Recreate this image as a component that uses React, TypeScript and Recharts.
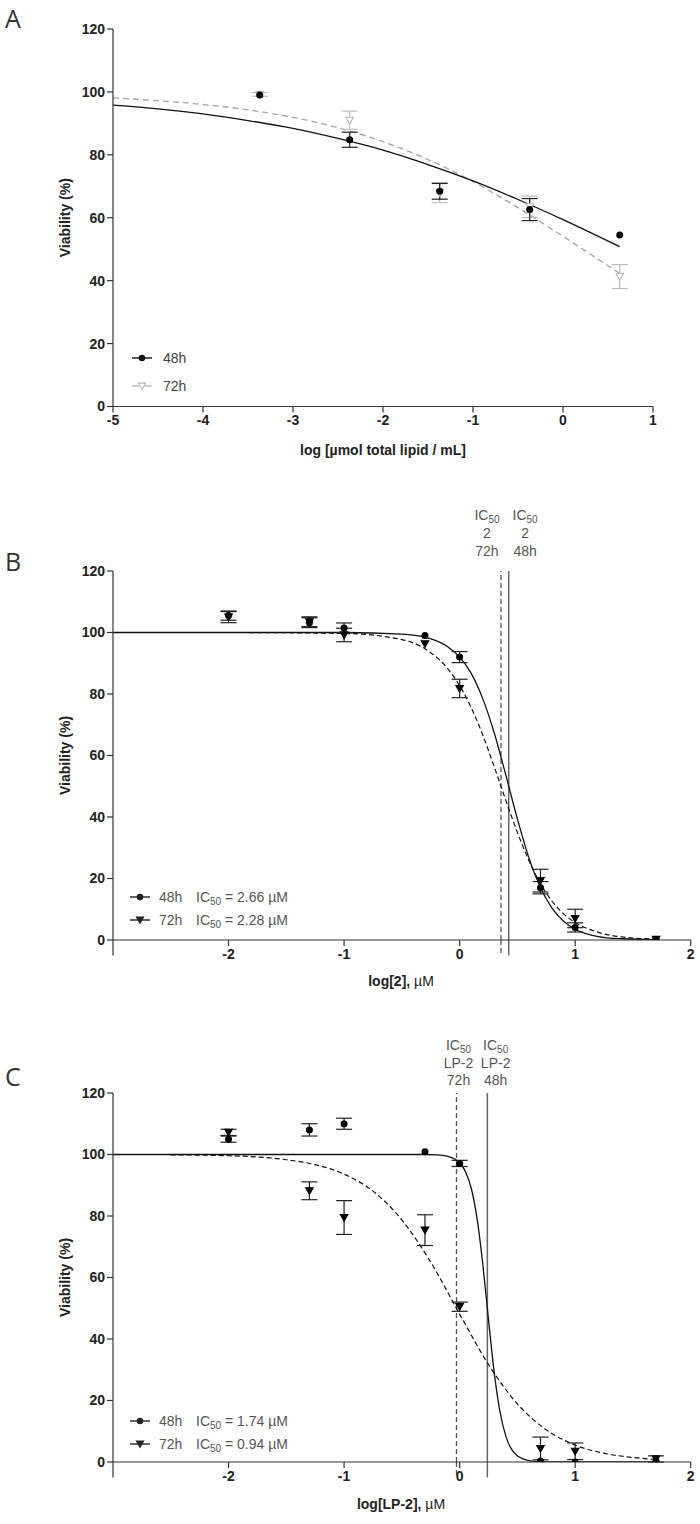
import React from 'react';
import { ComposedChart, Line, Scatter, XAxis, YAxis, ErrorBar, ReferenceLine } from 'recharts';

const FONT = '"Liberation Sans", Arial, sans-serif';

// ---------- Panel A ----------
const aX = [-3.37, -2.37, -1.37, -0.37, 0.63];
const a48 = [99.0, 84.8, 68.4, 62.6, 54.5];
const a48Err = [0, 2.4, 2.5, 3.5, 0];
const a72 = [99.2, 91.0, 68.0, 63.5, 41.3];
const a72Err = [0.6, 2.9, 3.2, 3.4, 3.8];
const aCurveX = [-5, -4.5, -4, -3.5, -3, -2.5, -2, -1.5, -1, -0.5, 0, 0.63];
const aFit48 = [95.8, 94.6, 93.0, 90.9, 88.4, 85.2, 81.5, 76.9, 71.7, 65.8, 59.4, 50.8];
const aFit72 = [98.1, 97.2, 96.0, 94.3, 91.9, 88.6, 84.2, 78.5, 71.5, 63.2, 54.1, 42.3];
const aXTicks = [-5, -4, -3, -2, -1, 0, 1];

// ---------- Panel B ----------
const bX = [-2, -1.3, -1, -0.3, 0, 0.7, 1, 1.7];
const b48 = [105.5, 103.2, 101.5, 99.0, 92.0, 17.0, 4.1, 0.1];
const b48Err = [1.5, 1.6, 1.6, 0, 1.8, 2.0, 1.5, 0];
const b72 = [105.0, 103.5, 99.2, 96.3, 81.8, 19.3, 7.0, 0.2];
const b72Err = [1.8, 1.6, 2.2, 0, 3.0, 3.7, 3.0, 0];
const bCurveX = [-3, -2, -1, -0.5, -0.3, -0.1, 0, 0.1, 0.2, 0.3, 0.4, 0.5, 0.6, 0.7, 0.8, 0.9, 1.0, 1.2, 1.4, 1.7];
const bFit48 = [100, 100, 100, 99.5, 98.5, 95.3, 92.0, 86.7, 78.5, 67.3, 53.6, 39.4, 26.7, 17.0, 10.4, 6.1, 3.5, 1.1, 0.4, 0.1];
const bFit72 = [100, 100, 99.7, 97.7, 94.7, 88.1, 82.7, 75.6, 66.7, 56.3, 45.4, 35.0, 25.8, 18.3, 12.6, 8.5, 5.7, 2.5, 1.0, 0.3];
const bLogIC50 = [0.425, 0.358]; // 48h, 72h
const bIC50Text = ['2.66', '2.28'];

// ---------- Panel C ----------
const cX = [-2, -1.3, -1, -0.3, 0, 0.7, 1, 1.7];
const c48 = [105.0, 108.0, 110.0, 100.9, 97.1, 0.3, 0.0, 0.3];
const c48Err = [1.0, 2.0, 1.8, 0, 1.0, 0, 0, 0];
const c72 = [107.2, 88.2, 79.5, 75.4, 50.5, 4.4, 3.5, 1.0];
const c72Err = [1.0, 2.9, 5.5, 5.0, 1.5, 3.7, 2.7, 1.0];
const cCurve48X = [-3, -1, -0.3, -0.2, -0.1, 0, 0.05, 0.1, 0.15, 0.2, 0.25, 0.3, 0.35, 0.4, 0.45, 0.5, 0.6, 0.7, 0.8, 1.0, 1.7];
const cFit48 = [100, 100, 100, 99.9, 99.4, 97.3, 94.5, 89.1, 79.4, 64.5, 46.3, 28.9, 16.2, 8.4, 4.1, 2.0, 0.45, 0.1, 0.02, 0, 0];
const cCurve72X = [-2.5, -2, -1.75, -1.5, -1.25, -1, -0.75, -0.5, -0.25, 0, 0.25, 0.5, 0.75, 1.0, 1.25, 1.5, 1.7];
const cFit72 = [99.9, 99.6, 99.2, 98.3, 96.7, 93.6, 88.1, 78.7, 65.0, 48.1, 31.7, 18.9, 10.5, 5.5, 2.86, 1.45, 0.84];
const cLogIC50 = [0.24, -0.027]; // 48h, 72h
const cIC50Text = ['1.74', '0.94'];

const bcXTicks = [-2, -1, 0, 1, 2];
const yTicks = [0, 20, 40, 60, 80, 100, 120];

const pts = (x: number[], y: number[], e?: number[]) => x.map((v, i) => ({ x: v, y: y[i], e: e ? e[i] : 0 }));

const circleShape = (color: string) => (p: any) => <circle cx={p.cx} cy={p.cy} r={3.5} fill={color} />;
const triShape = (fill: string, stroke: string) => (p: any) => {
  const s = 3.8;
  return (
    <path
      d={`M${p.cx - s},${p.cy - s * 0.8} L${p.cx + s},${p.cy - s * 0.8} L${p.cx},${p.cy + s * 0.95} Z`}
      fill={fill}
      stroke={stroke}
      strokeWidth={1.1}
    />
  );
};

const tickStyle = { fontSize: 14, fontWeight: 'bold' as const, fill: '#222', fontFamily: FONT };
const axisLine = { stroke: '#333', strokeWidth: 1.2 };

function ICLabel(props: any) {
  const { viewBox, lines, dx, offs } = props;
  if (!viewBox) return null;
  const cx = viewBox.x + dx;
  const top = viewBox.y;
  return (
    <g fontFamily={FONT} fontSize={14} fill="#555" textAnchor="middle">
      <text x={cx} y={top + offs[0]}>
        IC<tspan fontSize={10} dy={3}>50</tspan>
      </text>
      <text x={cx} y={top + offs[1]}>{lines[0]}</text>
      <text x={cx} y={top + offs[2]}>{lines[1]}</text>
    </g>
  );
}

function PanelA() {
  return (
    <ComposedChart width={700} height={470} margin={{ top: 29, right: 47, left: 0, bottom: 33.5 }}>
      <XAxis dataKey="x" type="number" domain={[-5, 1]} ticks={aXTicks} height={30} tick={tickStyle}
        tickSize={6} tickMargin={3} axisLine={axisLine} tickLine={axisLine} allowDataOverflow />
      <YAxis type="number" domain={[0, 120]} ticks={yTicks} width={113} tick={tickStyle}
        tickSize={6} tickMargin={2} axisLine={axisLine} tickLine={axisLine} />
      <Line data={pts(aCurveX, aFit72)} dataKey="y" type="monotone" stroke="#a8a8a8" strokeWidth={1.4}
        strokeDasharray="6 4" dot={false} isAnimationActive={false} />
      <Line data={pts(aCurveX, aFit48)} dataKey="y" type="monotone" stroke="#111" strokeWidth={1.3}
        dot={false} isAnimationActive={false} />
      <Scatter data={pts(aX, a72, a72Err)} dataKey="y" shape={triShape('#fff', '#b8b8b8')} isAnimationActive={false}>
        <ErrorBar dataKey="e" direction="y" width={8} stroke="#bcbcbc" strokeWidth={1.2} />
      </Scatter>
      <Scatter data={pts(aX, a48, a48Err)} dataKey="y" shape={circleShape('#000')} isAnimationActive={false}>
        <ErrorBar dataKey="e" direction="y" width={8} stroke="#222" strokeWidth={1.2} />
      </Scatter>
    </ComposedChart>
  );
}

function PanelBC(props: {
  x: number[]; y48: number[]; e48: number[]; y72: number[]; e72: number[];
  cx48: number[]; f48: number[]; cx72: number[]; f72: number[];
  ic: number[]; labelLines: string[][]; dxs: number[]; offs: number[];
  height: number; top: number; bottom: number;
}) {
  const p = props;
  return (
    <ComposedChart width={700} height={p.height} margin={{ top: p.top, right: 9.3, left: 0, bottom: p.bottom }}>
      <XAxis dataKey="x" type="number" domain={[-3, 2]} ticks={bcXTicks} height={30} tick={tickStyle}
        tickSize={6} tickMargin={3} axisLine={axisLine} tickLine={axisLine} allowDataOverflow />
      <YAxis type="number" domain={[0, 120]} ticks={yTicks} width={113} tick={tickStyle}
        tickSize={6} tickMargin={2} axisLine={axisLine} tickLine={axisLine} allowDataOverflow />
      <ReferenceLine segment={[{ x: -3, y: 0 }, { x: -3, y: -5 }]} stroke="#333" strokeWidth={1.2} ifOverflow="visible" />
      <ReferenceLine x={p.ic[1]} stroke="#555" strokeWidth={1.3} strokeDasharray="5 3" ifOverflow="visible"
        label={<ICLabel lines={p.labelLines[1]} dx={p.dxs[1]} offs={p.offs} />} />
      <ReferenceLine x={p.ic[0]} stroke="#666" strokeWidth={1.5} ifOverflow="visible"
        label={<ICLabel lines={p.labelLines[0]} dx={p.dxs[0]} offs={p.offs} />} />
      <ReferenceLine segment={[{ x: p.ic[1], y: 0 }, { x: p.ic[1], y: -5 }]} stroke="#555" strokeWidth={1.3}
        strokeDasharray="5 3" ifOverflow="visible" />
      <ReferenceLine segment={[{ x: p.ic[0], y: 0 }, { x: p.ic[0], y: -5 }]} stroke="#666" strokeWidth={1.5}
        ifOverflow="visible" />
      <Line data={pts(p.cx72, p.f72)} dataKey="y" type="monotone" stroke="#111" strokeWidth={1.2}
        strokeDasharray="5 3" dot={false} isAnimationActive={false} />
      <Line data={pts(p.cx48, p.f48)} dataKey="y" type="monotone" stroke="#111" strokeWidth={1.3}
        dot={false} isAnimationActive={false} />
      <Scatter data={pts(p.x, p.y72, p.e72)} dataKey="y" shape={triShape('#000', '#000')} isAnimationActive={false}>
        <ErrorBar dataKey="e" direction="y" width={8} stroke="#222" strokeWidth={1.2} />
      </Scatter>
      <Scatter data={pts(p.x, p.y48, p.e48)} dataKey="y" shape={circleShape('#000')} isAnimationActive={false}>
        <ErrorBar dataKey="e" direction="y" width={8} stroke="#222" strokeWidth={1.2} />
      </Scatter>
    </ComposedChart>
  );
}

function LegendMarker({ x, y, color, kind, hollow }: any) {
  const s = 3.6;
  return (
    <g>
      <line x1={x - 10} x2={x + 10} y1={y} y2={y} stroke={color} strokeWidth={1.4} />
      {kind === 'circle' ? (
        <circle cx={x} cy={y} r={3.3} fill={color} />
      ) : (
        <path d={`M${x - s},${y - s * 0.8} L${x + s},${y - s * 0.8} L${x},${y + s * 0.95} Z`}
          fill={hollow ? '#fff' : color} stroke={color} strokeWidth={1.1} />
      )}
    </g>
  );
}

function ICLegendRow({ y, kind, name, val }: any) {
  return (
    <g>
      <LegendMarker x={140} y={y} color="#222" kind={kind} />
      <text x={159} y={y + 5} fontFamily={FONT} fontSize={14} fill="#555">
        {name}
        <tspan x={196}>IC</tspan>
        <tspan fontSize={10} dy={3}>50</tspan>
        <tspan dy={-3}>{` = ${val} µM`}</tspan>
      </text>
    </g>
  );
}

function Overlay() {
  const title = { fontFamily: FONT, fontSize: 14, fontWeight: 'bold' as const, fill: '#222', textAnchor: 'middle' as const };
  return (
    <svg width={700} height={1524} style={{ position: 'absolute', left: 0, top: 0, pointerEvents: 'none' }}>
      <g fontFamily='"Open Sans", "Liberation Sans", sans-serif' fontSize={25} fill="#333">
        <text x={5} y={28}>A</text>
        <text x={5} y={571}>B</text>
        <text x={5} y={1086}>C</text>
      </g>
      {/* axis titles */}
      <text {...title} transform="translate(65,217.7) rotate(-90)" dominantBaseline="central">Viability (%)</text>
      <text {...title} transform="translate(65,755.5) rotate(-90)" dominantBaseline="central">Viability (%)</text>
      <text {...title} transform="translate(65,1277.5) rotate(-90)" dominantBaseline="central">Viability (%)</text>
      <text {...title} x={383} y={455}>log [µmol total lipid / mL]</text>
      <text {...title} x={401} y={986}>log[2], <tspan fontWeight="normal">µM</tspan></text>
      <text {...title} x={401} y={1509}>log[LP-2], <tspan fontWeight="normal">µM</tspan></text>
      {/* legend A */}
      <LegendMarker x={142} y={358} color="#111" kind="circle" />
      <text x={163} y={363} fontFamily={FONT} fontSize={14} fill="#444">48h</text>
      <LegendMarker x={142} y={386} color="#b8b8b8" kind="tri" hollow />
      <text x={163} y={391} fontFamily={FONT} fontSize={14} fill="#444">72h</text>
      {/* legend B */}
      <ICLegendRow y={897} kind="circle" name="48h" val={bIC50Text[0]} />
      <ICLegendRow y={920} kind="tri" name="72h" val={bIC50Text[1]} />
      {/* legend C */}
      <ICLegendRow y={1421} kind="circle" name="48h" val={cIC50Text[0]} />
      <ICLegendRow y={1444} kind="tri" name="72h" val={cIC50Text[1]} />
    </svg>
  );
}

export default function App() {
  return (
    <div style={{ position: 'absolute', left: 0, top: 0, width: 700, height: 1524, background: '#fff' }}>
      <div style={{ position: 'absolute', left: 0, top: 0 }}>
        <PanelA />
      </div>
      <div style={{ position: 'absolute', left: 0, top: 470 }}>
        <PanelBC height={530} top={101} bottom={30}
          x={bX} y48={b48} e48={b48Err} y72={b72} e72={b72Err}
          cx48={bCurveX} f48={bFit48} cx72={bCurveX} f72={bFit72}
          ic={bLogIC50} labelLines={[['2', '48h'], ['2', '72h']]} dxs={[16.4, -14]} offs={[-51, -33, -15.3]} />
      </div>
      <div style={{ position: 'absolute', left: 0, top: 1000 }}>
        <PanelBC height={524} top={93} bottom={32}
          x={cX} y48={c48} e48={c48Err} y72={c72} e72={c72Err}
          cx48={cCurve48X} f48={cFit48} cx72={cCurve72X} f72={cFit72}
          ic={cLogIC50} labelLines={[['LP-2', '48h'], ['LP-2', '72h']]} dxs={[8.3, 2]} offs={[-43, -24.7, -8]} />
      </div>
      <Overlay />
    </div>
  );
}
